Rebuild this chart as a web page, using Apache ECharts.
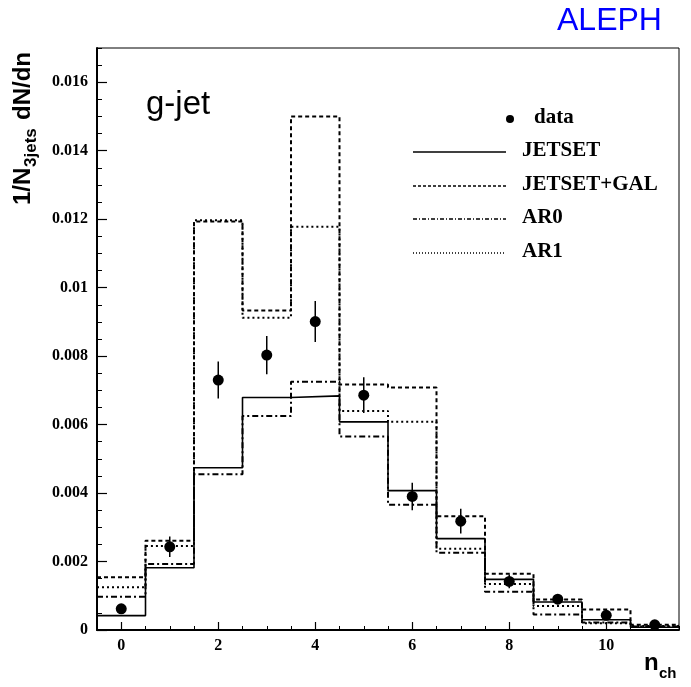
<!DOCTYPE html>
<html>
<head>
<meta charset="utf-8">
<script src="https://cdn.jsdelivr.net/npm/echarts@6/dist/echarts.min.js"></script>
<style>
  html, body { margin: 0; padding: 0; background: #fff; }
  #main { width: 691px; height: 687px; }
</style>
</head>
<body>
<div id="main"></div>
<script>
(function () {
    'use strict';

    // multiplicity bins (n_ch)
    var nch = [0, 1, 2, 3, 4, 5, 6, 7, 8, 9, 10, 11];
    // measured g-jet distribution
    var dataVal = [0.00062, 0.00243, 0.0073, 0.00803, 0.00901, 0.00686, 0.0039, 0.00318, 0.00142, 0.0009, 0.00043, 0.00015];
    var dataErr = [0.00005, 0.0003, 0.00054, 0.00056, 0.0006, 0.00052, 0.0004, 0.00036, 0.0002, 0.00015, 0.0001, 0.00005];
    // model predictions
    var jetset    = [0.00042, 0.00182, 0.00474, 0.00679, 0.00684, 0.00608, 0.00407, 0.00267, 0.00148, 0.00082, 0.0003, 0.00008];
    var jetsetGal = [0.00154, 0.00261, 0.01193, 0.00933, 0.0150, 0.00717, 0.00708, 0.00332, 0.00164, 0.00089, 0.0006, 0.00015];
    var ar0       = [0.00097, 0.00193, 0.00455, 0.00625, 0.00725, 0.00565, 0.00366, 0.00226, 0.00112, 0.00045, 0.00022, 0.0001];
    var ar1       = [0.00125, 0.00245, 0.01197, 0.00912, 0.01178, 0.0064, 0.00608, 0.00237, 0.00134, 0.0007, 0.0002, 0.00012];
    // tick labels
    var xLabels = [0, 2, 4, 6, 8, 10];
    var yLabels = [0, 0.002, 0.004, 0.006, 0.008, 0.01, 0.012, 0.014, 0.016];

    var labelFont = { fontFamily: 'Liberation Serif', fontWeight: 'bold', fontSize: 16, color: '#000' };
    var legendFont = 'bold 21px "Liberation Serif"';

    // histogram outline: points at bin edges, drawn with step 'end'
    function histo(vals) {
        var pts = [];
        for (var i = 0; i < nch.length; i++) {
            pts.push([nch[i] - 0.5, vals[i]]);
        }
        pts.push([nch[nch.length - 1] + 0.5, vals[vals.length - 1]]);
        return pts;
    }

    function histSeries(name, vals, type, width) {
        return {
            name: name,
            type: 'line',
            step: 'end',
            data: histo(vals),
            symbol: 'none',
            lineStyle: { color: '#000', width: width, type: type },
            silent: true
        };
    }

    var xMinor = [];
    for (var k = 0; k <= 23; k++) { xMinor.push(k * 0.5); }

    var myChart = echarts.init(document.getElementById('main'), null, { renderer: 'canvas' });

    var option = {
        animation: false,
        backgroundColor: '#fff',
        grid: {
            left: 97, top: 48, width: 582, height: 582,
            show: true, borderColor: '#000', borderWidth: 1, backgroundColor: 'transparent'
        },
        xAxis: [{
            type: 'value', min: -0.5, max: 11.5, position: 'bottom',
            axisLine: { show: true, onZero: false, lineStyle: { color: '#000', width: 2 } },
            axisTick: { show: true, inside: true, length: 8, customValues: xLabels, lineStyle: { color: '#000', width: 1.2 } },
            axisLabel: Object.assign({ customValues: xLabels, margin: 8 }, labelFont),
            splitLine: { show: false }
        }, {
            type: 'value', min: -0.5, max: 11.5, position: 'bottom', offset: 0,
            axisLine: { show: false, onZero: false },
            axisTick: { show: true, inside: true, length: 4, customValues: xMinor, lineStyle: { color: '#000', width: 1 } },
            axisLabel: { show: false },
            splitLine: { show: false }
        }],
        yAxis: [{
            type: 'value', min: 0, max: 0.017, position: 'left',
            axisLine: { show: true, onZero: false, lineStyle: { color: '#000', width: 2 } },
            axisTick: { show: true, inside: true, length: 10, customValues: yLabels, lineStyle: { color: '#000', width: 1.2 } },
            axisLabel: Object.assign({ customValues: yLabels, margin: 9 }, labelFont),
            splitLine: { show: false }
        }, {
            type: 'value', min: 0, max: 0.017, interval: 0.0005, position: 'left', offset: 0,
            axisLine: { show: false, onZero: false },
            axisTick: { show: true, inside: true, length: 5, lineStyle: { color: '#000', width: 1 } },
            axisLabel: { show: false },
            splitLine: { show: false }
        }],
        series: [
            histSeries('JETSET', jetset, 'solid', 1.6),
            histSeries('JETSET+GAL', jetsetGal, [4, 3], 2),
            histSeries('AR0', ar0, [6, 3, 2, 3], 2),
            histSeries('AR1', ar1, [2, 3], 2),
            {
                name: 'data-err',
                type: 'custom',
                data: nch.map(function (n, i) { return [n, dataVal[i], dataErr[i]]; }),
                renderItem: function (params, api) {
                    var top = api.coord([api.value(0), api.value(1) + api.value(2)]);
                    var bot = api.coord([api.value(0), api.value(1) - api.value(2)]);
                    return {
                        type: 'line',
                        shape: { x1: top[0], y1: top[1], x2: bot[0], y2: bot[1] },
                        style: { stroke: '#000', lineWidth: 1.5 }
                    };
                },
                z: 5
            },
            {
                name: 'data',
                type: 'scatter',
                data: nch.map(function (n, i) { return [n, dataVal[i]]; }),
                symbol: 'circle',
                symbolSize: 11,
                itemStyle: { color: '#000', opacity: 1 },
                z: 6
            }
        ],
        graphic: [
            { type: 'text', left: 557, top: 5, style: { text: 'ALEPH', fill: '#0000ff', font: '32px "Liberation Sans"' } },
            { type: 'text', left: 146, top: 88, style: { text: 'g-jet', fill: '#000', font: '33px "Liberation Sans"' } },
            // x axis title
            { type: 'text', left: 644, top: 651, style: { text: 'n', fill: '#000', font: 'bold 24px "Liberation Sans"' } },
            { type: 'text', left: 659, top: 666, style: { text: 'ch', fill: '#000', font: 'bold 15px "Liberation Sans"' } },
            // y axis title, reads bottom to top
            {
                type: 'group', x: 11, y: 205, rotation: Math.PI / 2,
                children: [
                    { type: 'text', x: 0, y: 0, style: { text: '1/N', fill: '#000', font: 'bold 24px "Liberation Sans"', textVerticalAlign: 'top' } },
                    { type: 'text', x: 38, y: 12, style: { text: '3jets', fill: '#000', font: 'bold 17px "Liberation Sans"', textVerticalAlign: 'top' } },
                    { type: 'text', x: 85, y: 0, style: { text: 'dN/dn', fill: '#000', font: 'bold 24px "Liberation Sans"', textVerticalAlign: 'top' } }
                ]
            },
            // legend
            { type: 'circle', shape: { cx: 510, cy: 119, r: 4 }, style: { fill: '#000' } },
            { type: 'text', left: 534, top: 107, style: { text: 'data', fill: '#000', font: legendFont } },
            { type: 'line', shape: { x1: 413, y1: 152, x2: 506, y2: 152 }, style: { stroke: '#000', lineWidth: 1.6 } },
            { type: 'text', left: 522, top: 140, style: { text: 'JETSET', fill: '#000', font: legendFont } },
            { type: 'line', shape: { x1: 413, y1: 186, x2: 506, y2: 186 }, style: { stroke: '#000', lineWidth: 1.3, lineDash: [3, 2] } },
            { type: 'text', left: 522, top: 174, style: { text: 'JETSET+GAL', fill: '#000', font: legendFont } },
            { type: 'line', shape: { x1: 413, y1: 219, x2: 506, y2: 219 }, style: { stroke: '#000', lineWidth: 1.3, lineDash: [4, 2, 1, 2] } },
            { type: 'text', left: 522, top: 207, style: { text: 'AR0', fill: '#000', font: legendFont } },
            { type: 'line', shape: { x1: 413, y1: 253, x2: 506, y2: 253 }, style: { stroke: '#000', lineWidth: 1.3, lineDash: [1, 2] } },
            { type: 'text', left: 522, top: 241, style: { text: 'AR1', fill: '#000', font: legendFont } }
        ]
    };

    myChart.setOption(option, true);
}());
</script>
</body>
</html>
